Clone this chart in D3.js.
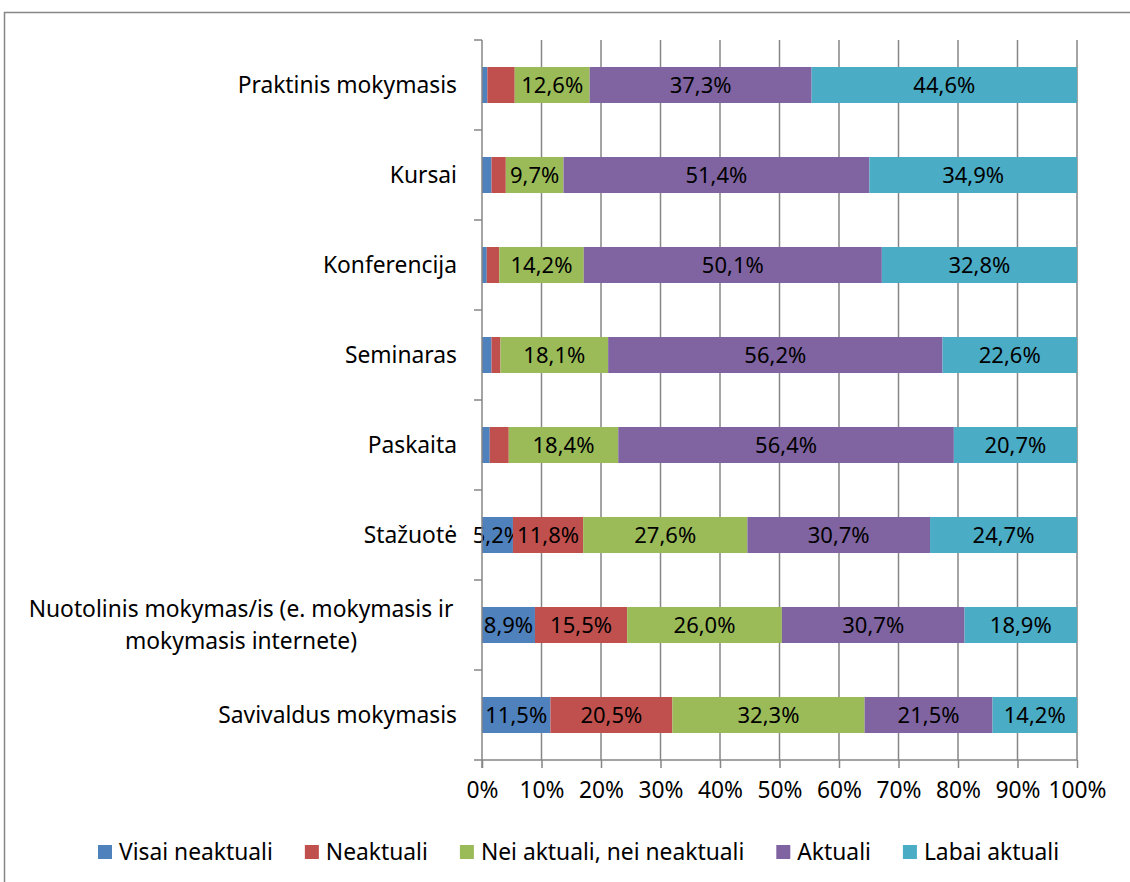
<!DOCTYPE html>
<html>
<head>
<meta charset="utf-8">
<script src="https://cdn.jsdelivr.net/npm/d3@7"></script>
<style>
  body { margin: 0; background: #fff; }
  svg { font-family: "Noto Sans", "Open Sans", sans-serif; }
</style>
</head>
<body>
<svg id="mount" width="1130" height="882"></svg>
<script>
var categories = [
  "Praktinis mokymasis",
  "Kursai",
  "Konferencija",
  "Seminaras",
  "Paskaita",
  "Stažuotė",
  "Nuotolinis mokymas/is (e. mokymasis ir|mokymasis internete)",
  "Savivaldus mokymasis"
];
var seriesNames = ["Visai neaktuali", "Neaktuali", "Nei aktuali, nei neaktuali", "Aktuali", "Labai aktuali"];
var seriesColors = ["#4F81BD", "#C0504D", "#9BBB59", "#8064A2", "#4BACC6"];

var visaiNeaktuali = [0.9, 1.6, 0.8, 1.6, 1.3, 5.2, 8.9, 11.5];
var neaktuali = [4.6, 2.4, 2.1, 1.5, 3.2, 11.8, 15.5, 20.5];
var neiAktuali = [12.6, 9.7, 14.2, 18.1, 18.4, 27.6, 26.0, 32.3];
var aktuali = [37.3, 51.4, 50.1, 56.2, 56.4, 30.7, 30.7, 21.5];
var labaiAktuali = [44.6, 34.9, 32.8, 22.6, 20.7, 24.7, 18.9, 14.2];

var xTicks = [0, 10, 20, 30, 40, 50, 60, 70, 80, 90, 100];

var seriesValues = [visaiNeaktuali, neaktuali, neiAktuali, aktuali, labaiAktuali];
var gridColor = "#868686";
var fontSize = 22.8;
var labelSize = 22;

var svg = d3.select("#mount");

// outer chart frame
svg.append("rect")
  .attr("x", 4.5).attr("y", 12.5)
  .attr("width", 1140).attr("height", 900)
  .attr("fill", "none")
  .attr("stroke", gridColor)
  .attr("stroke-width", 1.5);

var plotLeft = 482, plotRight = 1077, plotTop = 40, plotBottom = 760;

var x = d3.scaleLinear().domain([0, 100]).range([plotLeft, plotRight]);
var y = d3.scaleBand().domain(categories).range([plotTop, plotBottom]).paddingInner(0.6).paddingOuter(0.3);
var band = d3.scaleBand().domain(categories).range([plotTop, plotBottom]);

// vertical grid
svg.append("g")
  .selectAll("line")
  .data(xTicks.slice(1))
  .join("line")
  .attr("x1", function(d) { return x(d); })
  .attr("x2", function(d) { return x(d); })
  .attr("y1", plotTop)
  .attr("y2", plotBottom)
  .attr("stroke", gridColor)
  .attr("stroke-width", 1.5);

// stacked data
var rows = categories.map(function(c, i) {
  var row = { cat: c };
  seriesNames.forEach(function(s, j) { row[s] = seriesValues[j][i]; });
  return row;
});
var stacked = d3.stack().keys(seriesNames)(rows);

var layers = svg.append("g")
  .selectAll("g")
  .data(stacked)
  .join("g")
  .attr("fill", function(d, i) { return seriesColors[i]; });

layers.selectAll("rect")
  .data(function(d) { return d; })
  .join("rect")
  .attr("x", function(d) { return x(d[0]); })
  .attr("width", function(d) { return x(d[1]) - x(d[0]); })
  .attr("y", function(d) { return y(d.data.cat); })
  .attr("height", y.bandwidth());

// data labels (only segments of 5% and more are labelled)
layers.selectAll("text")
  .data(function(d) { return d.filter(function(p) { return p[1] - p[0] >= 5; }); })
  .join("text")
  .attr("x", function(d) { return (x(d[0]) + x(d[1])) / 2; })
  .attr("y", function(d) { return y(d.data.cat) + y.bandwidth() / 2; })
  .attr("dy", "0.35em")
  .attr("text-anchor", "middle")
  .attr("fill", "#000")
  .style("font-size", labelSize + "px")
  .text(function(d) { return (d[1] - d[0]).toFixed(1).replace(".", ",") + "%"; });

// x axis
var xAxis = svg.append("g")
  .attr("transform", "translate(0," + plotBottom + ")")
  .call(d3.axisBottom(x).tickValues(xTicks).tickSize(8).tickPadding(14)
    .tickFormat(function(d) { return d + "%"; }));
xAxis.select(".domain").remove();
xAxis.selectAll("line").attr("stroke", gridColor).attr("stroke-width", 1.5);
xAxis.selectAll("text").style("font-size", fontSize + "px").attr("fill", "#000")
  .attr("font-family", "Noto Sans");

svg.append("line")
  .attr("x1", plotLeft - 8).attr("x2", plotRight)
  .attr("y1", plotBottom).attr("y2", plotBottom)
  .attr("stroke", gridColor).attr("stroke-width", 1.5);

// y axis
svg.append("line")
  .attr("x1", plotLeft).attr("x2", plotLeft)
  .attr("y1", plotTop).attr("y2", plotBottom + 8)
  .attr("stroke", gridColor).attr("stroke-width", 1.5);
svg.append("g")
  .selectAll("line")
  .data(categories)
  .join("line")
  .attr("x1", plotLeft - 8).attr("x2", plotLeft)
  .attr("y1", function(d) { return band(d); })
  .attr("y2", function(d) { return band(d); })
  .attr("stroke", gridColor).attr("stroke-width", 1.5);

// category labels
categories.forEach(function(c) {
  var parts = c.split("|");
  var cy = y(c) + y.bandwidth() / 2;
  if (parts.length === 1) {
    svg.append("text")
      .attr("x", plotLeft - 25)
      .attr("y", cy)
      .attr("dy", "0.35em")
      .attr("text-anchor", "end")
      .style("font-size", fontSize + "px")
      .text(c);
  } else {
    var t = svg.append("text")
      .attr("text-anchor", "middle")
      .style("font-size", fontSize + "px");
    parts.forEach(function(p, k) {
      t.append("tspan")
        .attr("x", 241)
        .attr("y", cy + (k - (parts.length - 1) / 2) * 32)
        .attr("dy", "0.35em")
        .text(p);
    });
  }
});

// legend
var legend = svg.append("g").attr("transform", "translate(98,852)");
var lx = 0;
seriesNames.forEach(function(s, i) {
  var item = legend.append("g").attr("transform", "translate(" + lx + ",0)");
  item.append("rect")
    .attr("x", 0).attr("y", -7)
    .attr("width", 14).attr("height", 14)
    .attr("fill", seriesColors[i]);
  var t = item.append("text")
    .attr("x", 21)
    .attr("dy", "0.35em")
    .style("font-size", fontSize + "px")
    .text(s);
  lx += 21 + t.node().getComputedTextLength() + 32;
});
</script>
</body>
</html>
